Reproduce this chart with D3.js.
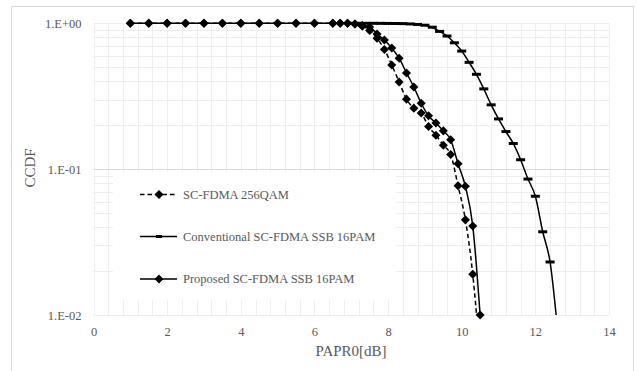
<!DOCTYPE html>
<html lang="en">
<head>
    <meta charset="UTF-8">
    <title>CCDF of PAPR0</title>
    <style>
        body { margin: 0; background: #fff; }
        svg { display: block; }
        .tick text { font-family: "Liberation Serif", "Times New Roman", serif; font-size: 12.5px; fill: #595959; }
        .title { font-family: "Liberation Serif", "Times New Roman", serif; font-size: 15px; fill: #595959; }
        .leg { font-family: "Liberation Serif", "Times New Roman", serif; font-size: 12.5px; fill: #595959; }
    </style>
</head>
<body>
    <svg id="chart" width="638" height="371"></svg>

    <script src="https://d3js.org/d3.v7.min.js"></script>
    <script>
        // x values shared by the two diamond series
        const diamondX = [1, 1.5, 2, 2.5, 3, 3.5, 4, 4.5, 5, 5.5, 6, 6.5, 6.7, 6.9,
                          7.1, 7.3, 7.5, 7.7, 7.9, 8.1, 8.3, 8.5, 8.7, 8.9, 9.1, 9.3,
                          9.5, 9.7, 9.9, 10.1, 10.3, 10.5];
        const qamY = [1, 1, 1, 1, 1, 1, 1, 1, 1, 1, 1, 1, 1, 1,
                      0.99, 0.96, 0.893, 0.789, 0.662, 0.518, 0.396, 0.302, 0.262, 0.243,
                      0.196, 0.171, 0.146, 0.126, 0.0769, 0.0449, 0.019, 0.005];
        const proposedY = [1, 1, 1, 1, 1, 1, 1, 1, 1, 1, 1, 1, 1, 1,
                           0.99, 0.96, 0.943, 0.845, 0.769, 0.678, 0.576, 0.457, 0.366, 0.283,
                           0.232, 0.207, 0.183, 0.159, 0.109, 0.0763, 0.0408, 0.0100];

        const convX = [7.0, 7.2, 7.4, 7.6, 7.8, 8.0, 8.2, 8.4, 8.6, 8.8, 9.0, 9.2, 9.4, 9.6,
                       9.8, 10.0, 10.2, 10.4, 10.6, 10.8, 11.0, 11.2, 11.4, 11.6, 11.8,
                       12.0, 12.2, 12.4, 12.6];
        const convY = [1, 1, 1, 1, 0.999, 0.998, 0.997, 0.995, 0.99, 0.982, 0.97, 0.94, 0.88, 0.818,
                       0.735, 0.645, 0.54, 0.447, 0.355, 0.276, 0.221, 0.181, 0.15, 0.116, 0.0855,
                       0.0652, 0.0372, 0.0231, 0.0081];

        const seriesNames = ["SC-FDMA 256QAM", "Conventional SC-FDMA SSB 16PAM", "Proposed SC-FDMA SSB 16PAM"];
        const xTicks = [0, 2, 4, 6, 8, 10, 12, 14];
        const yTicks = [1, 0.1, 0.01];
        const yTickLabels = ["1.E+00", "1.E-01", "1.E-02"];

        const svg = d3.select('#chart');
        const pLeft = 93.5, pRight = 609, pTop = 23.3, pBottom = 315;

        const x = d3.scaleLinear().domain([0, 14]).range([pLeft, pRight]);
        const y = d3.scaleLog().domain([0.01, 1]).range([pBottom, pTop]);

        // chart border
        svg.append('rect')
            .attr('x', 11.5).attr('y', 6.5)
            .attr('width', 622).attr('height', 390)
            .attr('fill', '#fff').attr('stroke', '#d9d9d9');

        // gridlines
        const grid = svg.append('g');
        const vMinor = d3.range(0, 36).map(i => i * 0.4);
        grid.selectAll('.vg').data(vMinor).enter().append('line')
            .attr('x1', d => Math.round(x(d)) + 0.5).attr('x2', d => Math.round(x(d)) + 0.5)
            .attr('y1', pTop).attr('y2', pBottom)
            .attr('stroke', '#eeeeee');
        const hMinor = [];
        [0.01, 0.1].forEach(b => { for (let k = 2; k <= 9; k++) hMinor.push(b * k); });
        grid.selectAll('.hg').data(hMinor).enter().append('line')
            .attr('x1', pLeft).attr('x2', pRight)
            .attr('y1', d => Math.round(y(d)) + 0.5).attr('y2', d => Math.round(y(d)) + 0.5)
            .attr('stroke', '#eeeeee');
        grid.selectAll('.hm').data(yTicks).enter().append('line')
            .attr('x1', pLeft).attr('x2', pRight)
            .attr('y1', d => Math.round(y(d)) + 0.5).attr('y2', d => Math.round(y(d)) + 0.5)
            .attr('stroke', d => d === 0.1 ? '#d9d9d9' : '#eeeeee');

        // legend background hides the grid behind it
        svg.append('rect')
            .attr('x', 113).attr('y', 172).attr('width', 283).attr('height', 128)
            .attr('fill', '#fff');

        // axes (labels only)
        const xAxis = svg.append('g')
            .attr('transform', `translate(0,${pBottom})`)
            .call(d3.axisBottom(x).tickValues(xTicks).tickSize(0).tickPadding(12));
        xAxis.select('.domain').remove();

        const yAxis = svg.append('g')
            .attr('transform', `translate(${pLeft},0)`)
            .call(d3.axisLeft(y).tickValues(yTicks).tickSize(0).tickPadding(12)
                .tickFormat((d, i) => yTickLabels[i]));
        yAxis.select('.domain').remove();

        svg.append('text').attr('class', 'title')
            .attr('x', 351).attr('y', 356).attr('text-anchor', 'middle')
            .text('PAPR0[dB]');
        svg.append('text').attr('class', 'title')
            .attr('transform', 'translate(35,168) rotate(-90)')
            .attr('text-anchor', 'middle')
            .text('CCDF');

        // series
        svg.append('clipPath').attr('id', 'plot')
            .append('rect').attr('x', pLeft).attr('y', pTop - 5)
            .attr('width', pRight - pLeft).attr('height', pBottom - pTop + 5);

        const line = d3.line()
            .x(d => x(d[0])).y(d => y(d[1]))
            .curve(d3.curveMonotoneX);

        const qam = diamondX.map((v, i) => [v, qamY[i]]);
        const prop = diamondX.map((v, i) => [v, proposedY[i]]);
        const conv = convX.map((v, i) => [v, convY[i]]);

        const diamond = d3.symbol().type(d3.symbolDiamond2).size(52);

        function drawSeries(data, dash, marker) {
            svg.append('path')
                .datum(data)
                .attr('clip-path', 'url(#plot)')
                .attr('fill', 'none').attr('stroke', '#000')
                .attr('stroke-width', 1.5)
                .attr('stroke-dasharray', dash)
                .attr('d', line);
            const pts = data.filter(d => d[1] >= 0.0099);
            if (marker === 'diamond') {
                svg.selectAll(null).data(pts).enter().append('path')
                    .attr('transform', d => `translate(${x(d[0])},${y(d[1])})`)
                    .attr('d', diamond).attr('fill', '#000');
            } else {
                svg.selectAll(null).data(pts).enter().append('rect')
                    .attr('x', d => x(d[0]) - 4.5).attr('y', d => y(d[1]) - 1.5)
                    .attr('width', 9).attr('height', 3).attr('fill', '#000');
            }
        }

        drawSeries(qam, '4.5,3', 'diamond');
        drawSeries(conv, null, 'dash');
        drawSeries(prop, null, 'diamond');

        // legend
        const legY = [194.5, 236.5, 279];
        const legDash = ['4.5,3', null, null];
        seriesNames.forEach((name, i) => {
            svg.append('line')
                .attr('x1', 140).attr('x2', 177)
                .attr('y1', legY[i]).attr('y2', legY[i])
                .attr('stroke', '#000').attr('stroke-width', 1.5)
                .attr('stroke-dasharray', legDash[i]);
            if (i === 1) {
                svg.append('rect')
                    .attr('x', 156).attr('y', legY[i] - 1.5)
                    .attr('width', 6).attr('height', 3).attr('fill', '#000');
            } else {
                svg.append('path')
                    .attr('transform', `translate(159,${legY[i]})`)
                    .attr('d', diamond).attr('fill', '#000');
            }
            svg.append('text').attr('class', 'leg')
                .attr('x', 183).attr('y', legY[i] + 4.3)
                .text(name);
        });
    </script>
</body>
</html>
